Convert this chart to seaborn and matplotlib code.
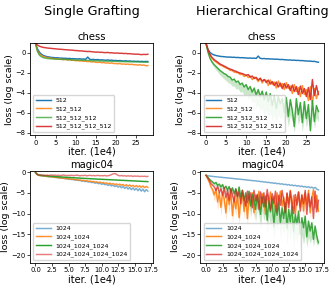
import numpy as np
import seaborn as sns
import matplotlib.pyplot as plt

# iteration grids (1e4)
chess_iter = np.arange(0, 28.01, 0.5)
magic_iter = np.arange(0, 17.01, 0.25)

chess_labels = ["512", "512_512", "512_512_512", "512_512_512_512"]
magic_labels = ["1024", "1024_1024", "1024_1024_1024", "1024_1024_1024_1024"]

# ---- Single Grafting, chess ----
s_chess_1 = [0.90, 0.35, 0.02, -0.18, -0.30, -0.37, -0.42, -0.45, -0.49, -0.50,
             -0.53, -0.52, -0.56, -0.55, -0.58, -0.57, -0.60, -0.59, -0.62, -0.61,
             -0.63, -0.65, -0.62, -0.66, -0.64, -0.68, -0.45, -0.67, -0.70, -0.69,
             -0.72, -0.70, -0.74, -0.73, -0.75, -0.77, -0.74, -0.78, -0.76, -0.80,
             -0.79, -0.82, -0.80, -0.83, -0.85, -0.82, -0.86, -0.84, -0.88, -0.86,
             -0.89, -0.87, -0.90, -0.88, -0.91, -0.89, -0.90]
s_chess_2 = [0.90, 0.20, -0.15, -0.30, -0.40, -0.46, -0.50, -0.55, -0.57, -0.60,
             -0.62, -0.66, -0.64, -0.69, -0.70, -0.68, -0.74, -0.72, -0.78, -0.76,
             -0.82, -0.80, -0.85, -0.83, -0.88, -0.86, -0.91, -0.89, -0.95, -0.92,
             -0.97, -0.99, -0.96, -1.02, -1.00, -1.05, -1.03, -1.08, -1.04, -1.10,
             -1.10, -1.13, -1.09, -1.16, -1.14, -1.18, -1.15, -1.20, -1.17, -1.22,
             -1.22, -1.26, -1.21, -1.28, -1.24, -1.32, -1.30]
s_chess_3 = [0.90, 0.10, -0.28, -0.43, -0.52, -0.56, -0.59, -0.61, -0.63, -0.64,
             -0.66, -0.65, -0.68, -0.67, -0.70, -0.69, -0.72, -0.71, -0.73, -0.74,
             -0.75, -0.76, -0.74, -0.78, -0.77, -0.79, -0.78, -0.81, -0.80, -0.82,
             -0.83, -0.82, -0.85, -0.84, -0.86, -0.85, -0.87, -0.86, -0.89, -0.88,
             -0.88, -0.90, -0.89, -0.91, -0.90, -0.92, -0.91, -0.93, -0.92, -0.94,
             -0.93, -0.95, -0.94, -0.96, -0.95, -0.97, -0.96]
s_chess_4 = [0.92, 0.75, 0.63, 0.56, 0.51, 0.48, 0.45, 0.43, 0.41, 0.39,
             0.37, 0.35, 0.33, 0.32, 0.30, 0.28, 0.27, 0.25, 0.24, 0.22,
             0.20, 0.19, 0.16, 0.17, 0.13, 0.12, 0.10, 0.11, 0.08, 0.06,
             0.04, 0.05, 0.02, 0.03, 0.00, -0.01, 0.01, -0.03, -0.02, -0.05,
             -0.06, -0.05, -0.08, -0.07, -0.10, -0.09, -0.12, -0.11, -0.14, -0.15,
             -0.17, -0.16, -0.19, -0.21, -0.18, -0.20, -0.17]

# ---- Hierarchical Grafting, chess ----
h_chess_1 = [0.90, 0.30, 0.00, -0.15, -0.24, -0.30, -0.34, -0.38, -0.40, -0.42,
             -0.44, -0.46, -0.45, -0.48, -0.47, -0.50, -0.49, -0.52, -0.51, -0.53,
             -0.54, -0.56, -0.55, -0.57, -0.56, -0.59, -0.35, -0.58, -0.61, -0.60,
             -0.63, -0.62, -0.65, -0.64, -0.67, -0.66, -0.68, -0.70, -0.69, -0.72,
             -0.73, -0.75, -0.74, -0.77, -0.76, -0.79, -0.78, -0.81, -0.80, -0.83,
             -0.84, -0.86, -0.85, -0.89, -0.88, -0.93, -0.97]
h_chess_2 = [0.90, 0.20, -0.30, -0.58, -0.80, -0.95, -1.10, -1.25, -1.32, -1.45,
             -1.55, -1.62, -1.78, -1.80, -1.95, -2.00, -2.02, -2.20, -2.15, -2.40,
             -2.25, -2.50, -2.35, -2.70, -2.45, -2.60, -2.90, -2.55, -3.05, -2.70,
             -2.80, -3.30, -2.75, -3.20, -2.95, -3.55, -2.85, -3.40, -3.10, -3.70,
             -3.00, -3.60, -3.35, -4.10, -3.20, -3.90, -3.50, -4.40, -3.30, -4.20,
             -3.70, -4.80, -3.40, -5.10, -3.60, -4.60, -3.90]
h_chess_3 = [0.90, 0.00, -0.60, -0.95, -1.20, -1.40, -1.60, -1.80, -1.95, -2.10,
             -2.20, -2.40, -2.45, -2.75, -2.65, -2.95, -2.85, -3.20, -3.05, -3.45,
             -3.20, -3.70, -3.40, -3.95, -3.55, -4.25, -3.70, -4.40, -3.85, -4.70,
             -3.95, -4.90, -4.10, -5.30, -4.30, -5.60, -4.40, -5.10, -4.60, -6.00,
             -4.50, -6.40, -4.70, -5.80, -7.40, -4.60, -6.20, -5.00, -7.00, -4.90,
             -6.60, -5.20, -7.80, -4.80, -6.90, -5.30, -5.90]
h_chess_3_low = [0.85, -0.15, -0.80, -1.20, -1.50, -1.75, -2.00, -2.25, -2.45, -2.65,
                 -2.80, -3.00, -3.10, -3.35, -3.35, -3.65, -3.60, -3.95, -3.90, -4.30,
                 -4.15, -4.65, -4.45, -5.00, -4.80, -5.50, -5.20, -5.90, -5.50, -6.30,
                 -5.70, -6.50, -5.90, -6.80, -6.10, -7.00, -6.20, -6.60, -6.30, -7.20,
                 -6.10, -7.40, -6.20, -6.90, -8.00, -6.00, -7.20, -6.40, -7.90, -6.20,
                 -7.50, -6.40, -8.10, -6.10, -7.60, -6.50, -6.90]
h_chess_4 = [0.90, 0.25, -0.20, -0.50, -0.70, -0.85, -1.00, -1.15, -1.25, -1.35,
             -1.45, -1.58, -1.65, -1.72, -1.82, -1.88, -1.98, -2.05, -2.10, -2.18,
             -2.28, -2.20, -2.45, -2.35, -2.60, -2.48, -2.75, -2.58, -2.85, -2.70,
             -3.00, -2.75, -3.15, -2.90, -3.30, -2.95, -3.45, -3.05, -3.60, -3.10,
             -3.55, -3.20, -3.80, -3.25, -3.90, -3.40, -4.20, -3.35, -4.10, -3.60,
             -4.40, -3.50, -4.70, -2.70, -4.30, -3.30, -4.20]

# ---- Single Grafting, magic04 ----
s_magic_1 = [-0.20, -0.60, -0.80, -0.88, -0.92,
             -0.98, -1.02, -1.06, -1.12,
             -1.16, -1.20, -1.26, -1.30,
             -1.33, -1.40, -1.42, -1.50,
             -1.52, -1.60, -1.62, -1.70,
             -1.72, -1.82, -1.80, -1.95,
             -1.90, -2.05, -2.00, -2.20,
             -2.10, -2.30, -2.25, -2.40,
             -2.35, -2.55, -2.45, -2.70,
             -2.55, -2.80, -2.70, -2.95,
             -2.80, -3.05, -2.95, -3.25,
             -3.00, -3.35, -3.15, -3.50,
             -3.25, -3.65, -3.35, -3.80,
             -3.45, -3.95, -3.60, -4.10,
             -3.70, -4.25, -3.80, -4.35,
             -3.90, -4.50, -4.00, -4.60,
             -4.10, -4.75, -4.20, -4.60]
s_magic_2 = [-0.10, -0.55, -0.75, -0.85, -0.90,
             -0.95, -1.00, -1.05, -1.10,
             -1.12, -1.18, -1.22, -1.28,
             -1.30, -1.36, -1.40, -1.45,
             -1.50, -1.55, -1.58, -1.65,
             -1.68, -1.75, -1.72, -1.85,
             -1.82, -1.95, -1.90, -2.05,
             -1.98, -2.15, -2.05, -2.25,
             -2.15, -2.35, -2.25, -2.45,
             -2.35, -2.55, -2.40, -2.65,
             -2.50, -2.75, -2.60, -2.85,
             -2.65, -2.95, -2.75, -3.05,
             -2.85, -3.10, -2.90, -3.20,
             -3.00, -3.30, -3.05, -3.40,
             -3.10, -3.45, -3.20, -3.55,
             -3.25, -3.60, -3.30, -3.70,
             -3.35, -3.75, -3.45, -3.70]
s_magic_3 = [-0.10, -0.50, -0.70, -0.78, -0.82,
             -0.86, -0.90, -0.93, -0.97,
             -1.00, -1.03, -1.06, -1.09,
             -1.12, -1.14, -1.17, -1.20,
             -1.22, -1.25, -1.27, -1.30,
             -1.32, -1.35, -1.37, -1.40,
             -1.42, -1.44, -1.47, -1.49,
             -1.52, -1.54, -1.56, -1.58,
             -1.60, -1.63, -1.64, -1.67,
             -1.69, -1.71, -1.73, -1.75,
             -1.77, -1.79, -1.81, -1.83,
             -1.85, -1.87, -1.89, -1.90,
             -1.93, -1.95, -1.96, -1.99,
             -2.00, -2.03, -2.04, -2.07,
             -2.08, -2.11, -2.12, -2.15,
             -2.17, -2.19, -2.20, -2.23,
             -2.25, -2.28, -2.27, -2.32]
s_magic_4 = [0.00, -0.60, -0.75, -0.70, -0.78,
             -0.72, -0.80, -0.74, -0.82,
             -0.76, -0.70, -0.80, -0.74,
             -0.82, -0.76, -0.85, -0.78,
             -0.72, -0.80, -0.86, -0.79,
             -0.84, -0.77, -0.88, -0.80,
             -0.75, -0.83, -0.90, -0.82,
             -0.86, -0.78, -0.92, -0.84,
             -0.80, -0.88, -0.83, -0.90,
             -0.85, -0.80, -0.92, -0.86,
             -0.90, -0.82, -0.95, -0.88,
             -0.80, -0.60, -0.45, -0.35,
             -0.55, -0.80, -0.92, -0.85,
             -0.95, -0.88, -1.00, -0.90,
             -0.98, -0.92, -1.05, -0.95,
             -1.02, -0.96, -1.08, -1.00,
             -1.06, -1.00, -1.10, -1.05]

# ---- Hierarchical Grafting, magic04 ----
h_magic_1 = [-0.80, -0.90, -0.95, -1.00, -1.05,
             -1.10, -1.14, -1.18, -1.22,
             -1.26, -1.30, -1.34, -1.38,
             -1.42, -1.46, -1.50, -1.54,
             -1.60, -1.62, -1.68, -1.70,
             -1.76, -1.78, -1.85, -1.86,
             -1.94, -1.95, -2.03, -2.04,
             -2.12, -2.10, -2.22, -2.20,
             -2.32, -2.28, -2.42, -2.38,
             -2.52, -2.46, -2.62, -2.56,
             -2.72, -2.64, -2.82, -2.74,
             -2.92, -2.82, -3.02, -2.92,
             -3.12, -3.00, -3.22, -3.10,
             -3.30, -3.18, -3.40, -3.28,
             -3.50, -3.36, -3.60, -3.46,
             -3.70, -3.52, -3.80, -3.62,
             -3.90, -3.70, -4.10, -4.30]
h_magic_2 = [-0.80, -1.60, -2.50, -3.60, -4.20,
             -5.50, -4.00, -7.20, -5.00,
             -8.50, -4.80, -6.50, -9.80,
             -5.20, -7.80, -4.60, -10.50,
             -6.00, -8.80, -5.20, -11.00,
             -6.50, -4.80, -9.50, -5.60,
             -11.20, -6.20, -8.00, -5.00,
             -9.80, -5.50, -7.20, -4.60,
             -8.80, -5.20, -6.80, -10.20,
             -5.40, -7.40, -4.80, -8.60,
             -5.80, -9.20, -5.00, -7.00,
             -4.60, -8.20, -6.00, -9.60,
             -5.20, -7.60, -4.40, -8.80,
             -5.60, -10.00, -6.20, -4.80,
             -8.40, -5.40, -9.40, -5.00,
             -7.80, -4.40, -9.80, -6.20,
             -4.20, -8.60, -5.60, -9.40]
h_magic_2_low = [-0.90, -2.00, -3.20, -4.60, -5.40,
                 -7.00, -5.60, -9.00, -6.80,
                 -10.40, -6.60, -8.40, -11.60,
                 -7.20, -9.80, -6.60, -12.20,
                 -8.00, -10.60, -7.20, -12.60,
                 -8.40, -6.80, -11.20, -7.60,
                 -12.80, -8.20, -9.80, -7.00,
                 -11.40, -7.40, -9.00, -6.60,
                 -10.40, -7.00, -8.60, -11.60,
                 -7.20, -9.00, -6.60, -10.20,
                 -7.60, -10.80, -6.80, -8.60,
                 -6.40, -9.80, -7.80, -11.00,
                 -7.00, -9.20, -6.20, -10.40,
                 -7.40, -11.40, -8.00, -6.60,
                 -10.00, -7.20, -11.00, -6.80,
                 -9.40, -6.20, -11.20, -8.00,
                 -6.00, -10.20, -7.40, -10.80]
h_magic_3 = [-0.80, -1.20, -1.70, -2.10, -2.40,
             -2.80, -2.50, -3.20, -2.90,
             -3.60, -3.00, -4.00, -3.40,
             -4.30, -3.50, -4.80, -3.80,
             -5.20, -4.00, -5.80, -3.60,
             -6.00, -4.40, -6.80, -5.00,
             -7.40, -4.60, -8.20, -5.40,
             -6.60, -9.00, -5.60, -7.60,
             -10.20, -6.00, -8.40, -5.80,
             -11.60, -7.00, -9.60, -6.40,
             -13.20, -8.00, -10.40, -7.20,
             -12.40, -8.60, -11.20, -7.40,
             -13.60, -9.00, -12.00, -8.20,
             -14.40, -10.20, -12.60, -9.40,
             -15.00, -11.00, -13.40, -10.60,
             -15.60, -11.80, -14.20, -12.20,
             -16.20, -13.00, -15.40, -17.00]
h_magic_3_low = [-0.90, -1.50, -2.10, -2.60, -3.00,
                 -3.40, -3.20, -4.00, -3.80,
                 -4.50, -4.00, -5.20, -4.60,
                 -5.60, -4.80, -6.40, -5.20,
                 -6.80, -5.60, -7.60, -5.40,
                 -8.00, -6.40, -9.00, -7.20,
                 -9.80, -7.00, -10.80, -8.00,
                 -9.40, -12.00, -8.60, -10.60,
                 -13.40, -9.20, -11.80, -9.20,
                 -15.00, -10.60, -13.20, -10.20,
                 -16.40, -11.80, -14.20, -11.20,
                 -16.20, -12.80, -15.20, -11.80,
                 -17.40, -13.40, -16.20, -12.80,
                 -18.20, -14.60, -17.00, -14.00,
                 -18.40, -15.20, -17.40, -15.00,
                 -18.00, -15.60, -17.20, -15.80,
                 -17.80, -15.80, -17.40, -17.60]
h_magic_4 = [-0.80, -1.40, -2.00, -2.80, -3.20,
             -3.60, -4.40, -3.40, -5.00,
             -4.00, -5.60, -3.80, -6.20,
             -4.40, -6.80, -4.00, -5.60,
             -7.20, -4.20, -6.00, -4.80,
             -7.60, -4.40, -6.40, -8.20,
             -4.60, -6.80, -5.00, -8.60,
             -4.40, -7.00, -5.40, -9.00,
             -4.80, -7.40, -5.00, -8.40,
             -4.20, -6.60, -9.20, -5.20,
             -7.60, -4.60, -9.60, -5.60,
             -8.00, -4.40, -6.80, -9.80,
             -5.00, -8.60, -4.60, -7.40,
             -10.00, -5.40, -8.00, -4.80,
             -9.40, -5.60, -7.60, -4.40,
             -10.20, -5.20, -8.40, -6.00,
             -11.20, -4.60, -9.60, -6.80]

colors = sns.color_palette("tab10", 4)

panels = [
    (0, 0, chess_iter, [s_chess_1, s_chess_2, s_chess_3, s_chess_4], {},
     chess_labels, "chess", [1.0, 0.85, 0.75, 0.9]),
    (0, 1, chess_iter, [h_chess_1, h_chess_2, h_chess_3, h_chess_4], {2: h_chess_3_low},
     chess_labels, "chess", [1.0, 0.85, 0.9, 0.9]),
    (1, 0, magic_iter, [s_magic_1, s_magic_2, s_magic_3, s_magic_4], {},
     magic_labels, "magic04", [0.6, 0.85, 1.0, 0.6]),
    (1, 1, magic_iter, [h_magic_1, h_magic_2, h_magic_3, h_magic_4],
     {1: h_magic_2_low, 2: h_magic_3_low},
     magic_labels, "magic04", [0.6, 0.9, 0.9, 0.75]),
]

fig, axes = plt.subplots(2, 2, figsize=(3.32, 2.85), dpi=100)
fig.subplots_adjust(left=0.09, right=0.976, top=0.849, bottom=0.077,
                    wspace=0.38, hspace=0.39)

for row, col, x, lines, bands, labels, title, alphas in panels:
    ax = axes[row, col]
    for i, (y, lab) in enumerate(zip(lines, labels)):
        sns.lineplot(x=x, y=y, ax=ax, color=colors[i], lw=1.05, alpha=alphas[i],
                     label=lab, estimator=None)
    for i, low in bands.items():
        ax.fill_between(x, low, lines[i], color=colors[i], alpha=0.25, lw=0)
    ax.set_title(title, fontsize=7.2, pad=2.5)
    ax.set_xlabel("iter. (1e4)", fontsize=7, labelpad=0.8)
    ax.set_ylabel("loss (log scale)", fontsize=6.8, labelpad=1)
    ax.tick_params(labelsize=4.9, length=2, width=0.5, pad=1.2)
    for sp in ax.spines.values():
        sp.set_linewidth(0.6)
    if row == 0:
        ax.set_xlim(-1.4, 29.4)
        ax.set_xticks([0, 5, 10, 15, 20, 25])
        ax.set_ylim(-8.25, 0.95)
        ax.set_yticks([0, -2, -4, -6, -8])
    else:
        ax.set_xlim(-0.85, 17.85)
        ax.set_xticks([0, 2.5, 5, 7.5, 10, 12.5, 15, 17.5])
        ax.set_ylim(-21.9, 0.25)
        ax.set_yticks([0, -5, -10, -15, -20])
    ax.legend(loc="lower left", fontsize=4.5, handlelength=2.4, borderpad=0.4,
              labelspacing=0.45)

for col, head in enumerate(["Single Grafting", "Hierarchical Grafting"]):
    pos = axes[0, col].get_position()
    fig.text((pos.x0 + pos.x1) / 2, 0.958, head, ha="center", va="center", fontsize=9.2)

fig.savefig("out.png", dpi=100)
